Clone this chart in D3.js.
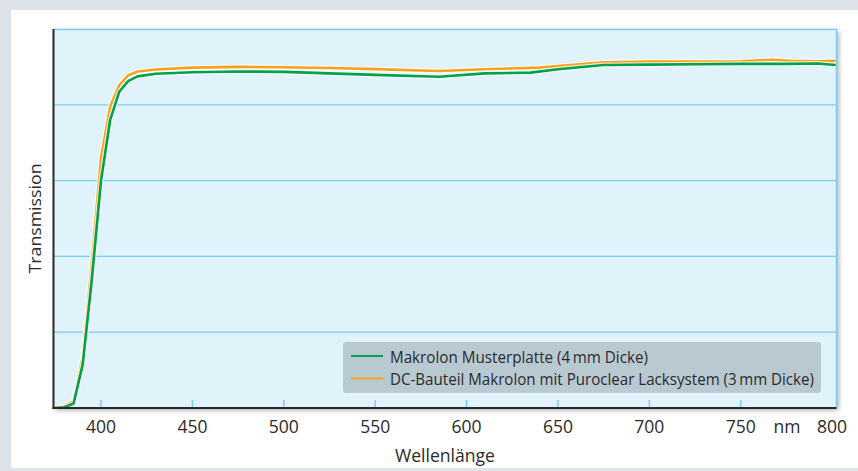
<!DOCTYPE html>
<html>
<head>
<meta charset="utf-8">
<script src="https://cdn.jsdelivr.net/npm/d3@7"></script>
<style>
  body { margin: 0; background: #dde3e8; }
  svg { display: block; }
  text { font-family: "Open Sans", "Noto Sans", sans-serif; fill: #2b2b2b; }
</style>
</head>
<body>
<svg id="chart" width="858" height="471"></svg>
<script>
// wavelength (nm) / transmission (%)
var greenNm  = [374, 380, 385, 390, 395, 400, 405, 410, 415, 420, 430, 450, 475, 500, 525, 550, 585, 610, 635, 650, 675, 700, 725, 750, 775, 792, 802];
var greenVal = [0, 0.2, 1.2, 11.5, 34, 60, 76, 83.5, 86.3, 87.5, 88.2, 88.6, 88.8, 88.7, 88.3, 87.9, 87.4, 88.3, 88.5, 89.4, 90.5, 90.6, 90.7, 90.8, 90.8, 90.9, 90.5];
var orangeNm  = [374, 380, 385, 390, 395, 400, 405, 410, 415, 420, 430, 450, 475, 500, 525, 550, 585, 610, 640, 660, 675, 700, 725, 750, 767, 777, 792, 802];
var orangeVal = [0, 0.5, 1.8, 13.5, 38.5, 66, 79.5, 85.2, 87.8, 88.8, 89.3, 89.8, 90, 89.9, 89.7, 89.4, 88.9, 89.4, 89.8, 90.6, 91.2, 91.4, 91.4, 91.5, 91.9, 91.6, 91.5, 91.6];
var xTicks = [400, 450, 500, 550, 600, 650, 700, 750];
var yGrid = [20, 40, 60, 80];
var legendNames = ['Makrolon Musterplatte (4\u2009mm Dicke)', 'DC-Bauteil Makrolon mit Puroclear Lacksystem (3\u2009mm Dicke)'];
var legendColors = ['#00a14b', '#f7a21b'];

var svg = d3.select('#chart');
var pL = 53.5, pR = 836.5, pT = 29, pB = 408;

var x = d3.scaleLinear().domain([374, 802.4]).range([pL, pR]);
var y = d3.scaleLinear().domain([0, 100]).range([pB, pT]);

// white panel
svg.append('rect').attr('x', 11).attr('y', 10).attr('width', 847).attr('height', 458).style('fill', '#fff');

var defs = svg.append('defs');
var f = defs.append('filter').attr('id', 'shadow').attr('x', '-5%').attr('y', '-5%').attr('width', '110%').attr('height', '115%');
f.append('feDropShadow').attr('dx', 2).attr('dy', 2).attr('stdDeviation', 2.5).attr('flood-color', '#000').attr('flood-opacity', 0.35);
defs.append('clipPath').attr('id', 'clip').append('rect')
    .attr('x', pL).attr('y', pT - 3).attr('width', pR - pL + 1).attr('height', pB - pT + 3);

// plot background
svg.append('rect')
    .attr('x', pL).attr('y', pT).attr('width', pR - pL).attr('height', pB - pT)
    .style('fill', '#e0f3fb').attr('filter', 'url(#shadow)');

// grid
svg.selectAll('line.grid')
    .data(yGrid)
    .enter()
    .append('line')
    .attr('class', 'grid')
    .attr('x1', pL).attr('x2', pR)
    .attr('y1', function(d){ return y(d); })
    .attr('y2', function(d){ return y(d); })
    .style('stroke', '#7dcdef').style('stroke-width', 1.2);

// top and right border
svg.append('path')
    .attr('d', 'M' + pL + ',' + (pT + 0.5) + 'H' + pR + 'V' + pB)
    .style('fill', 'none').style('stroke', '#7dcdef').style('stroke-width', 1.5);

// ticks inside bottom
svg.selectAll('line.tick')
    .data(xTicks)
    .enter()
    .append('line')
    .attr('class', 'tick')
    .attr('x1', function(d){ return x(d); })
    .attr('x2', function(d){ return x(d); })
    .attr('y1', pB).attr('y2', pB - 8)
    .style('stroke', '#7dcdef').style('stroke-width', 1.5);

// curves
var line = d3.line()
    .x(function(d){ return x(d[0]); })
    .y(function(d){ return y(d[1]); });

var series = [
    { nm: orangeNm, val: orangeVal, color: legendColors[1] },
    { nm: greenNm, val: greenVal, color: legendColors[0] }
];
var g = svg.append('g').attr('clip-path', 'url(#clip)');
series.forEach(function(s){
    var pts = s.nm.map(function(d, i){ return [d, s.val[i]]; });
    g.append('path').attr('d', line(pts))
        .style('fill', 'none').style('stroke', '#fff').style('stroke-opacity', 0.7).style('stroke-width', 5);
    g.append('path').attr('d', line(pts))
        .style('fill', 'none').style('stroke', s.color).style('stroke-width', 2.6)
        .style('stroke-linejoin', 'round');
});

// axes lines
svg.append('line').attr('x1', pL).attr('x2', pL).attr('y1', pT).attr('y2', pB + 1)
    .style('stroke', '#2a2a2a').style('stroke-width', 2);
svg.append('line').attr('x1', pL - 1).attr('x2', pR).attr('y1', pB).attr('y2', pB)
    .style('stroke', '#2a2a2a').style('stroke-width', 2);

// tick labels
svg.selectAll('text.xl')
    .data(xTicks.concat([800]))
    .enter()
    .append('text')
    .attr('class', 'xl')
    .attr('x', function(d){ return x(d); })
    .attr('y', 433)
    .attr('text-anchor', 'middle')
    .style('font-size', '17.5px')
    .text(function(d){ return d; });

svg.append('text').attr('x', 787).attr('y', 433).attr('text-anchor', 'middle')
    .style('font-size', '17.5px').text('nm');

svg.append('text').attr('x', 445).attr('y', 462).attr('text-anchor', 'middle')
    .attr('textLength', 100).attr('lengthAdjust', 'spacingAndGlyphs')
    .style('font-size', '17.5px').text('Wellenlänge');

svg.append('text')
    .attr('transform', 'translate(41,' + ((pT + pB) / 2) + ') rotate(-90)')
    .attr('text-anchor', 'middle')
    .attr('textLength', 110).attr('lengthAdjust', 'spacingAndGlyphs')
    .style('font-size', '17px').text('Transmission');

// legend
var lg = svg.append('g');
lg.append('rect').attr('x', 343).attr('y', 342).attr('width', 478).attr('height', 51).attr('rx', 3)
    .style('fill', '#b9c9d1');
var targets = [258, 424];
legendNames.forEach(function(name, i){
    var ly = 356 + i * 22.5;
    lg.append('line').attr('x1', 351).attr('x2', 383).attr('y1', ly).attr('y2', ly)
        .style('stroke', legendColors[i]).style('stroke-width', 2);
    lg.append('text').attr('x', 390).attr('y', ly + 6.5).style('font-size', '16px')
        .attr('textLength', targets[i]).attr('lengthAdjust', 'spacingAndGlyphs')
        .text(name);
});
</script>
</body>
</html>
